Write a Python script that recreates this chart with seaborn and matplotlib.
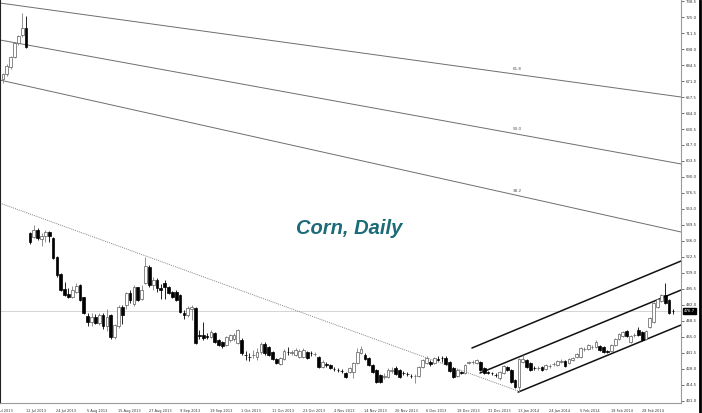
import matplotlib
matplotlib.use("Agg")
import matplotlib.pyplot as plt
import matplotlib.transforms as mtransforms
import pandas as pd
import seaborn as sns

# =========================
# data
# =========================
opens = [673, 677, 683, 691, 703, 710, 716,
         542.7, 539.5, 545.2, 537.4, 539.8, 543.6, 538.2, 522.2, 508.1, 495.2,
         491.2, 489.0, 493.2, 498.8, 488.5, 472.7, 467.9, 472.1, 467.0, 473.5,
         464.2, 473.5, 455.2, 464.2, 480.5, 481.6, 492.3, 482.8, 496.8, 486.9,
         500.8, 514.3, 498.8, 503.1, 496.0, 500.2, 496.8, 493.2, 493.2, 490.4,
         475.0, 473.5, 478.6, 479.2, 456.7, 456.7, 455.8, 455.2, 458.6, 452.4,
         451.0, 448.2, 452.4, 453.3, 449.7,
         452.4, 440.0, 438.5, 439.4, 438.1, 442.3, 449.0, 446.5, 442.3, 436.4,
         432.2, 436.4, 442.5, 441.5, 439.8, 438.1, 438.1, 442.3, 441.5, 440.4,
         438.1, 429.6, 432.5, 431.3, 428.4, 427.3, 426.5, 424.6, 425.4, 425.4,
         433.0, 441.5, 439.8, 437.2, 431.3, 427.1, 422.9, 421.2, 421.2, 426.3,
         428.8, 427.1, 424.8, 423.9, 422.3, 422.1, 422.1, 429.6, 433.0, 433.5,
         433.0, 436.5, 437.5, 437.2, 433.9, 428.8, 422.1, 425.0, 424.6, 433.2,
         433.8, 433.0, 433.9,
         428.8, 425.4, 424.6, 423.0, 420.4, 424.6, 429.6, 427.1, 418.7, 412.8,
         433.9, 435.5, 433.0, 428.9, 428.7, 429.6, 428.0, 430.4, 432.0, 431.3,
         434.2, 434.7, 433.0, 435.5, 438.1, 438.1, 444.5, 444.8, 446.3, 446.5,
         447.4, 446.5, 442.9, 443.1, 448.2, 453.3, 455.8, 460.0, 450.7, 456.4,
         460.9, 459.2, 453.3, 463.4, 467.6, 480.3, 485.3, 490.4, 486.2, 477.2]

highs = [678, 685, 692, 704, 710, 728, 726,
         543.8, 549.5, 546.9, 542.5, 545.2, 544.4, 539.3, 523.0, 509.0, 501.0,
         496.0, 497.8, 500.5, 500.0, 489.0, 475.0, 475.0, 474.0, 475.0, 475.0,
         479.0, 474.0, 466.0, 482.0, 482.0, 493.0, 494.6, 499.0, 497.5, 498.8,
         522.8, 516.0, 506.0, 505.0, 499.7, 503.0, 498.0, 494.0, 495.0, 491.0,
         477.7, 481.0, 481.9, 480.3, 460.9, 467.9, 458.0, 460.5, 459.5, 453.0,
         452.0, 456.0, 457.5, 458.0, 461.7,
         454.1, 443.1, 441.5, 444.0, 445.7, 450.7, 450.7, 447.4, 443.0, 437.0,
         438.1, 444.8, 446.5, 444.0, 445.7, 444.8, 446.0, 443.1, 443.0, 442.0,
         439.0, 435.5, 434.0, 432.2, 429.6, 428.8, 428.0, 425.4, 429.6, 433.9,
         445.7, 447.4, 441.5, 438.1, 432.2, 428.0, 423.7, 424.6, 428.8, 429.6,
         430.5, 428.0, 426.3, 425.4, 423.7, 423.7, 430.5, 436.4, 439.0, 435.5,
         438.1, 438.9, 438.9, 439.0, 434.7, 429.6, 428.0, 426.3, 432.2, 434.7,
         435.5, 436.4, 434.7,
         429.6, 426.3, 425.4, 424.6, 426.3, 431.3, 430.5, 428.0, 419.5, 437.2,
         439.8, 436.4, 433.9, 430.5, 430.5, 430.5, 432.2, 432.2, 433.9, 435.5,
         436.4, 435.5, 437.2, 438.1, 441.5, 446.5, 446.5, 449.0, 448.2, 452.4,
         448.2, 447.4, 444.0, 449.0, 454.1, 458.3, 460.0, 460.9, 456.6, 458.3,
         463.4, 460.0, 460.9, 471.8, 484.5, 487.9, 491.2, 500.5, 487.0, 478.6]

lows = [669, 675, 681, 690, 701, 708, 699,
        533.4, 538.5, 536.8, 531.5, 535.0, 535.0, 520.5, 506.0, 493.5, 489.5,
        487.5, 488.0, 492.0, 485.0, 474.0, 464.5, 464.0, 466.0, 465.0, 461.7,
        460.0, 453.5, 453.5, 463.0, 466.0, 479.0, 483.6, 481.0, 485.0, 486.0,
        500.0, 497.0, 494.6, 493.0, 487.0, 487.0, 491.0, 488.0, 485.0, 475.0,
        470.0, 472.0, 469.0, 449.0, 453.3, 452.4, 453.0, 454.0, 450.0, 447.0,
        446.0, 447.0, 451.0, 452.0, 449.0,
        439.8, 435.5, 434.7, 437.2, 435.5, 440.6, 439.8, 438.9, 435.5, 432.2,
        431.3, 435.5, 439.8, 440.0, 439.0, 437.2, 437.0, 436.4, 439.0, 439.0,
        428.8, 428.8, 429.6, 428.0, 426.3, 425.4, 424.6, 420.4, 424.6, 420.4,
        432.2, 440.6, 435.5, 430.5, 424.6, 416.1, 416.1, 419.5, 420.4, 424.6,
        422.9, 420.4, 422.9, 422.1, 420.4, 416.1, 421.2, 428.8, 432.2, 430.5,
        432.2, 434.7, 433.9, 431.3, 425.4, 420.4, 421.2, 423.7, 423.7, 432.2,
        432.2, 432.2, 426.3,
        423.7, 423.7, 422.9, 421.2, 418.7, 423.7, 426.3, 416.1, 411.9, 408.5,
        433.0, 428.8, 426.3, 427.1, 427.1, 426.3, 427.1, 429.0, 430.5, 430.5,
        433.0, 429.6, 432.2, 434.7, 437.2, 437.2, 443.1, 444.0, 444.8, 445.7,
        443.1, 441.5, 441.5, 442.3, 447.4, 452.4, 455.0, 455.0, 449.9, 454.9,
        455.8, 451.6, 452.4, 462.5, 466.8, 479.4, 484.5, 482.8, 474.4, 474.4]

closes = [677, 683.5, 691, 703, 709, 716, 700,
          535.1, 545.5, 538.2, 540.2, 543.5, 539.8, 521.4, 507.3, 494.6, 490.4,
          488.5, 494.6, 498.0, 486.2, 475.0, 467.9, 472.1, 467.1, 473.5, 464.2,
          472.0, 455.2, 465.0, 480.5, 473.5, 492.3, 485.9, 497.4, 486.2, 495.0,
          514.9, 498.8, 503.3, 496.0, 495.0, 497.0, 492.3, 489.0, 486.2, 476.3,
          473.5, 479.2, 480.0, 449.7, 455.8, 453.9, 454.7, 459.4, 451.0, 448.2,
          447.4, 455.2, 456.7, 456.6, 460.9,
          441.5, 439.8, 438.1, 439.8, 442.3, 449.0, 441.5, 439.8, 436.4, 433.0,
          437.2, 443.1, 442.3, 442.3, 444.0, 443.1, 444.0, 437.2, 441.3, 440.6,
          429.6, 433.9, 431.5, 428.8, 428.0, 427.1, 426.3, 421.2, 428.8, 433.0,
          442.3, 444.8, 436.4, 431.3, 425.4, 417.0, 417.0, 422.1, 427.1, 427.0,
          423.7, 421.2, 424.6, 423.7, 422.1, 422.3, 429.6, 435.5, 437.2, 432.5,
          437.2, 436.0, 437.0, 432.2, 426.3, 421.2, 427.1, 424.8, 431.3, 433.5,
          433.9, 435.5, 427.1,
          424.6, 424.6, 424.3, 422.9, 425.4, 430.5, 427.1, 417.0, 412.8, 436.4,
          436.4, 429.6, 427.1, 428.7, 428.9, 427.1, 431.3, 430.6, 432.3, 434.7,
          434.8, 430.5, 436.4, 437.2, 440.6, 445.7, 445.0, 448.2, 446.6, 450.7,
          444.0, 442.3, 442.5, 448.2, 453.3, 457.5, 459.2, 455.8, 455.8, 456.8,
          456.6, 452.4, 460.0, 471.0, 483.6, 487.0, 490.4, 483.6, 475.2, 476.7]

last_price = 476.7

date_labels = ["2 Jul 2013", "12 Jul 2013", "24 Jul 2013", "5 Aug 2013", "15 Aug 2013",
               "27 Aug 2013", "9 Sep 2013", "19 Sep 2013", "1 Oct 2013", "11 Oct 2013",
               "23 Oct 2013", "4 Nov 2013", "14 Nov 2013", "26 Nov 2013", "6 Dec 2013",
               "18 Dec 2013", "31 Dec 2013", "13 Jan 2014", "24 Jan 2014", "5 Feb 2014",
               "18 Feb 2014", "28 Feb 2014"]

price_ticks = [401.0, 414.5, 428.0, 441.5, 455.0, 468.5, 482.0, 495.5, 509.0, 522.5,
               536.0, 549.5, 563.0, 576.5, 590.0, 603.5, 617.0, 630.5, 644.0, 657.5,
               671.0, 684.5, 698.0, 711.5, 725.0, 738.5]

# trend lines drawn on the chart: start bar, start price, end bar, end price
fib_names = ["61.8", "50.0", "38.2"]
fib_start = [736.8, 705.6, 671.8]
fib_end = [657.5, 601.0, 543.6]
fib_label_price = [681.1, 630.5, 578.4]

dotted_line = [(-0.8, 568.0), (133.8, 409.4)]
channel_upper = [(121.8, 445.7), (176.1, 519.1)]
channel_mid = [(123.9, 424.6), (176.1, 494.6)]
channel_lower = [(133.8, 408.5), (176.1, 465.1)]

# =========================
# prepare data
# =========================
df = pd.DataFrame({"open": opens, "high": highs, "low": lows, "close": closes})
df["bar"] = range(len(df))
df["up"] = df["close"] >= df["open"]
df["body_low"] = df[["open", "close"]].min(axis=1)
df["body_h"] = (df["close"] - df["open"]).abs().clip(lower=0.25)

# =========================
# figure
# =========================
sns.set_theme(style="white")
plt.rcParams["font.family"] = ["DejaVu Sans"]

fig = plt.figure(figsize=(7.02, 4.13), dpi=100)
ax = fig.add_axes([0, 10 / 413, 681 / 702, 403 / 413])

x_left, x_right = -0.78, 176.1

# current price line
ax.axhline(last_price, color="#d4d4d4", lw=0.7, zorder=0)

# fibonacci fan lines
for name, y0, y1, ly in zip(fib_names, fib_start, fib_end, fib_label_price):
    fan = pd.DataFrame({"x": [x_left, x_right], "y": [y0, y1]})
    sns.lineplot(data=fan, x="x", y="y", ax=ax, color="#6e6e6e", lw=0.7,
                 legend=False, zorder=1)
    ax.text(133.5, ly, name, fontsize=3, color="#555555", ha="center",
            va="center")

# dotted down trend line
dl = pd.DataFrame(dotted_line, columns=["x", "y"])
sns.lineplot(data=dl, x="x", y="y", ax=ax, color="#777777", lw=0.6,
             linestyle=(0, (1.2, 1.2)), legend=False, zorder=1)

# channel
for pts in [channel_upper, channel_mid, channel_lower]:
    ch = pd.DataFrame(pts, columns=["x", "y"])
    sns.lineplot(data=ch, x="x", y="y", ax=ax, color="#111111", lw=1.1,
                 legend=False, zorder=1)

# candles
up = df[df["up"]]
down = df[~df["up"]]
ax.vlines(up["bar"], up["low"], up["high"], color="#808080", lw=0.6, zorder=2)
ax.vlines(down["bar"], down["low"], down["high"], color="black", lw=0.6, zorder=2)
ax.bar(up["bar"], up["body_h"], bottom=up["body_low"], width=0.72,
       color="white", edgecolor="#5a5a5a", linewidth=0.5, zorder=3)
ax.bar(down["bar"], down["body_h"], bottom=down["body_low"], width=0.72,
       color="black", edgecolor="black", linewidth=0.5, zorder=3)

# title
ax.text(349.5 / 681, 0.4194, "Corn, Daily", transform=ax.transAxes,
        fontsize=14.5, fontweight="bold", fontstyle="italic",
        family="Liberation Sans", color="#1b6b78", ha="center", va="baseline")

# axes
ax.set_xlabel("")
ax.set_ylabel("")
ax.yaxis.tick_right()
ax.set_yticks(price_ticks)
ax.set_yticklabels([f"{v:.1f}" for v in price_ticks])
ax.tick_params(axis="y", direction="out", length=2, width=0.5, colors="#333333",
               labelsize=2.8, pad=1.5)

# first date sits at the left edge, its label runs off the chart
tick_pos = [-0.7] + [-2.5 + 8 * k for k in range(1, len(date_labels))]
ax.set_xticks(tick_pos)
ax.set_xticklabels(date_labels)
ax.tick_params(axis="x", direction="out", length=2.5, width=0.5, colors="#333333",
               labelsize=2.5, pad=1.5)
shift = mtransforms.ScaledTranslation(1.5 / 100, 0, fig.dpi_scale_trans)
first_shift = mtransforms.ScaledTranslation(-5 / 100, 0, fig.dpi_scale_trans)
for i, lbl in enumerate(ax.get_xticklabels()):
    lbl.set_horizontalalignment("left")
    lbl.set_transform(lbl.get_transform() + (first_shift if i == 0 else shift))

# limits last: seaborn and set_xticks both widen the view
ax.set_xlim(x_left, x_right)
ax.set_ylim(399.3, 739.35)

ax.spines["top"].set_visible(False)
ax.spines["right"].set_color("#9a9a9a")
ax.spines["bottom"].set_color("#9a9a9a")
ax.spines["left"].set_color("#222222")
for side in ["right", "bottom", "left"]:
    ax.spines[side].set_linewidth(0.8)

# last price box
ax.annotate(f"{last_price:.1f}", xy=(1.0, last_price),
            xycoords=("axes fraction", "data"), xytext=(2.2, 0),
            textcoords="offset points", fontsize=2.8, color="white",
            va="center", ha="left",
            bbox=dict(boxstyle="square,pad=0.3", fc="black", ec="black"))

# right window border
fig.add_artist(plt.Line2D([0.9975, 0.9975], [0, 1], transform=fig.transFigure,
                          color="black", lw=2))

fig.savefig("out.png", dpi=100)
